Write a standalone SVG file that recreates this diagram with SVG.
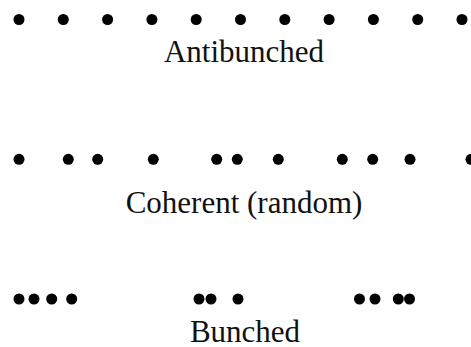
<svg xmlns="http://www.w3.org/2000/svg" width="471" height="347" viewBox="0 0 471 347">
  <style>
    .dot { fill: #000; }
    .label { font-family: "Liberation Serif", "Times New Roman", serif; font-size: 31px; fill: #111; text-anchor: middle; }
  </style>
  <defs>
    <circle id="p" r="5.5" class="dot"/>
  </defs>
  <rect width="471" height="347" fill="#fff"/>

  <!-- evenly spaced photon arrivals -->
  <g id="antibunched">
    <use href="#p" x="19" y="19.5"/>
    <use href="#p" x="63.3" y="19.5"/>
    <use href="#p" x="107.6" y="19.5"/>
    <use href="#p" x="151.9" y="19.5"/>
    <use href="#p" x="196.2" y="19.5"/>
    <use href="#p" x="240.5" y="19.5"/>
    <use href="#p" x="284.8" y="19.5"/>
    <use href="#p" x="329.1" y="19.5"/>
    <use href="#p" x="373.4" y="19.5"/>
    <use href="#p" x="417.7" y="19.5"/>
    <use href="#p" x="462" y="19.5"/>
    <text class="label" x="244" y="61.5">Antibunched</text>
  </g>

  <!-- Poissonian arrivals -->
  <g id="coherent">
    <use href="#p" x="19" y="159.3"/>
    <use href="#p" x="68.3" y="159.3"/>
    <use href="#p" x="97.7" y="159.3"/>
    <use href="#p" x="153.3" y="159.3"/>
    <use href="#p" x="216.7" y="159.3"/>
    <use href="#p" x="237.3" y="159.3"/>
    <use href="#p" x="278.3" y="159.3"/>
    <use href="#p" x="342.3" y="159.3"/>
    <use href="#p" x="372.7" y="159.3"/>
    <use href="#p" x="410" y="159.3"/>
    <use href="#p" x="471" y="159.3"/>
    <text class="label" x="244" y="212.5">Coherent (random)</text>
  </g>

  <!-- clustered arrivals -->
  <g id="bunched">
    <use href="#p" x="19" y="299"/>
    <use href="#p" x="34" y="299"/>
    <use href="#p" x="51.7" y="299"/>
    <use href="#p" x="71.7" y="299"/>
    <use href="#p" x="199" y="299"/>
    <use href="#p" x="211" y="299"/>
    <use href="#p" x="238" y="299"/>
    <use href="#p" x="359.5" y="299"/>
    <use href="#p" x="375" y="299"/>
    <use href="#p" x="398.3" y="299"/>
    <use href="#p" x="409.5" y="299"/>
    <text class="label" x="245" y="341.5">Bunched</text>
  </g>
</svg>
